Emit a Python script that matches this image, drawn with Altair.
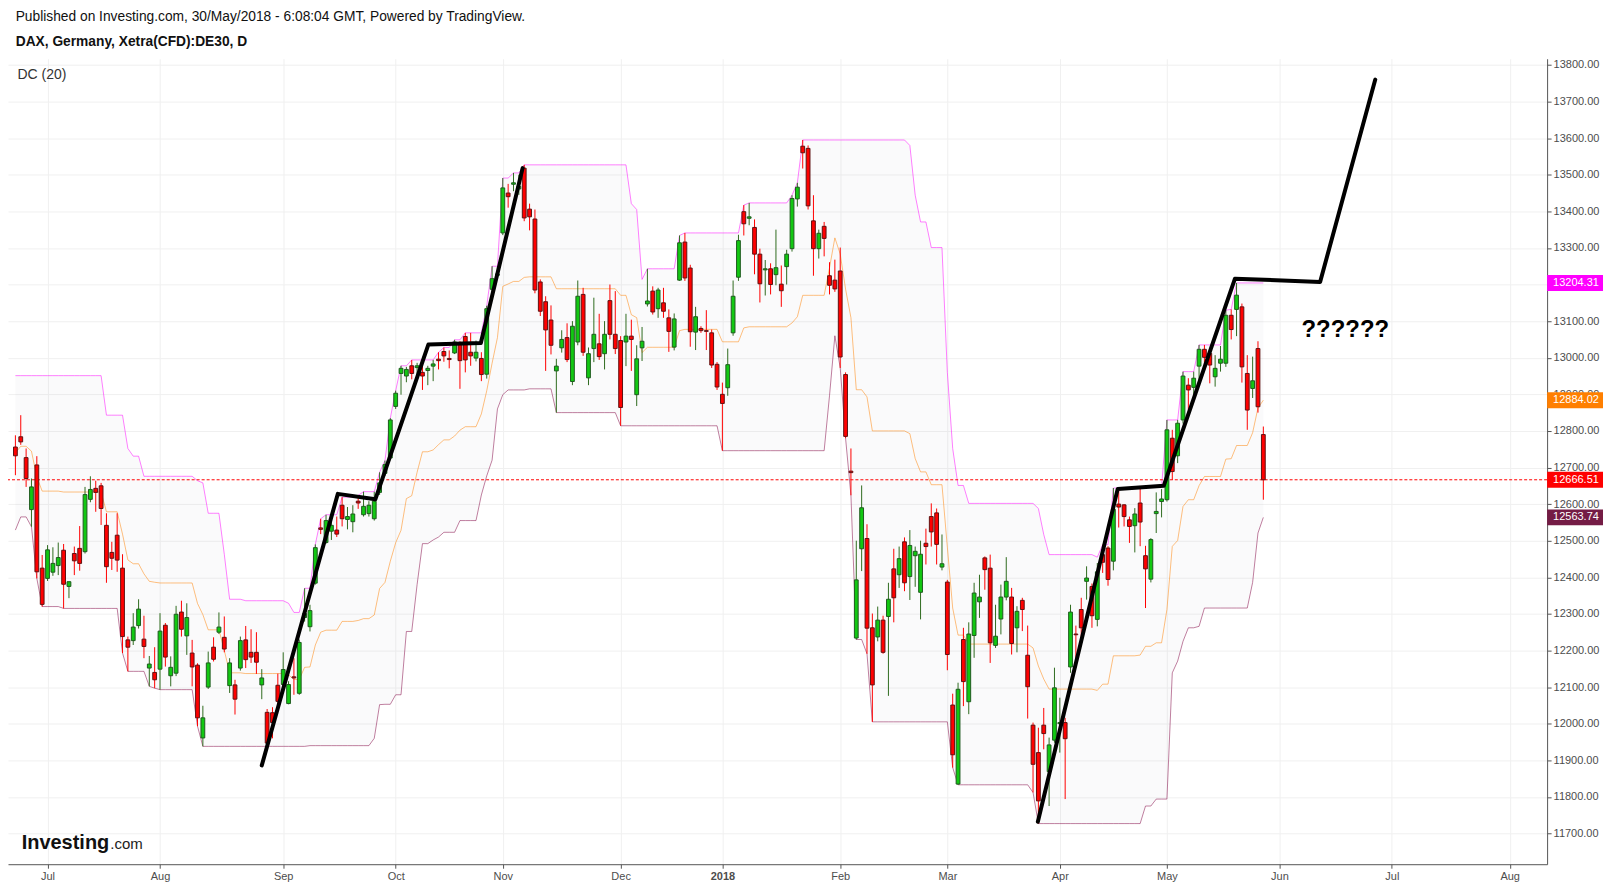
import altair as alt
import pandas as pd

# ---- daily candles (Jun 23 2017 .. May 29 2018) ----
opens = [
    12756, 12784, 12727, 12585, 12707, 12425,
    12397, 12414, 12432, 12474, 12375, 12465, 12479, 12470, 12613, 12643, 12650, 12542, 12468, 12515, 12425, 12229, 12227, 12268, 12231, 12152, 12140,
    12149, 12269, 12131, 12138, 12305, 12240, 12193, 12160, 11961, 12100, 12209, 12250, 12236, 12104, 12106, 12152, 12229, 12195, 12195, 12106, 12031, 12030, 12105,
    12107, 12055, 12128, 12083, 12290, 12265, 12384, 12535, 12495, 12526, 12529, 12597, 12558, 12552, 12608, 12571, 12574, 12560, 12632, 12684, 12726,
    12867, 12957, 12950, 12978, 12973, 12960, 12965, 12977, 12996, 13017, 12998, 13013, 13039, 13058, 13015, 12999, 12998, 12955, 13187, 13225,
    13341, 13450, 13474, 13461, 13518, 13406, 13379, 13207, 13153, 13103, 12964, 13027, 13055, 12935, 13043, 13173, 12945, 13025, 13038, 13011, 13156, 13064,
    13047, 13043, 13059, 12899, 13027, 13147, 13182, 13134, 13150, 13109, 13029, 13212, 13316, 13245, 13070, 13080, 13074, 13068, 12982,
    12900, 12918, 13068, 13220, 13399, 13381, 13356, 13283, 13240, 13243, 13227, 13201, 13249, 13298, 13434, 13578, 13572, 13374, 13298, 13359, 13224, 13212,
    13237, 12954, 12690, 12234, 12478, 12506, 12262, 12237, 12283, 12293, 12423, 12407, 12497, 12402, 12459, 12359, 12493, 12566, 12576, 12428,
    12387, 12051, 11835, 12230, 12060, 12241, 12333, 12453, 12425, 12214, 12286, 12346, 12346, 12262, 12337, 12187, 11996, 11921, 11996, 11869, 11955,
    12000, 12003, 12155, 12245, 12312, 12389, 12375, 12285, 12462, 12480, 12444, 12600, 12598, 12557, 12541, 12603, 12459, 12395, 12574, 12607,
    12612, 12780, 12732, 12830, 12925, 12919, 12977, 13023, 13012, 12948, 12985, 12985, 13116, 13132, 13139, 12957, 12916, 13025, 12790,
]
highs = [
    12788, 12843, 12752, 12670, 12731, 12461,
    12488, 12482, 12495, 12491, 12388, 12484, 12540, 12647, 12676, 12664, 12658, 12575, 12497, 12575, 12463, 12238, 12302, 12340, 12295, 12185, 12209,
    12302, 12275, 12184, 12322, 12336, 12329, 12229, 12165, 12049, 12197, 12236, 12304, 12293, 12179, 12120, 12238, 12267, 12258, 12250, 12149, 12040, 12045, 12137,
    12195, 12116, 12179, 12230, 12370, 12325, 12490, 12560, 12571, 12555, 12566, 12619, 12592, 12597, 12624, 12634, 12608, 12634, 12687, 12719, 12835,
    12910, 12978, 12975, 12994, 12986, 12989, 12978, 12994, 13015, 13028, 13020, 13049, 13045, 13068, 13068, 13047, 13015, 13142, 13250, 13248,
    13491, 13475, 13505, 13500, 13527, 13421, 13405, 13214, 13168, 13143, 12997, 13075, 13094, 13100, 13211, 13191, 13028, 13164, 13120, 13100, 13200, 13182,
    13059, 13120, 13104, 13034, 13084, 13243, 13195, 13191, 13191, 13132, 13121, 13334, 13341, 13254, 13139, 13086, 13130, 13077, 12988,
    12932, 13025, 13211, 13336, 13417, 13423, 13378, 13298, 13267, 13258, 13350, 13252, 13295, 13444, 13478, 13595, 13580, 13444, 13350, 13371, 13261, 13268,
    13301, 12960, 12752, 12500, 12651, 12545, 12301, 12320, 12295, 12385, 12478, 12484, 12509, 12529, 12484, 12500, 12533, 12602, 12588, 12517,
    12393, 12082, 12112, 12262, 12277, 12385, 12407, 12457, 12462, 12325, 12380, 12455, 12371, 12321, 12344, 12268, 12003, 11989, 12043, 11962, 12153,
    12071, 12016, 12325, 12268, 12344, 12430, 12383, 12439, 12489, 12485, 12644, 12641, 12600, 12566, 12589, 12648, 12486, 12507, 12632, 12641,
    12830, 12803, 12830, 12962, 12944, 12962, 13035, 13035, 13023, 13007, 13032, 13130, 13132, 13204.31, 13148, 13007, 13003, 13045, 12812,
]
lows = [
    12679, 12762, 12647, 12538, 12397, 12320,
    12390, 12404, 12406, 12315, 12343, 12406, 12418, 12465, 12605, 12579, 12543, 12385, 12420, 12415, 12193, 12143, 12215, 12260, 12179, 12102, 12097,
    12093, 12156, 12102, 12130, 12238, 12188, 12102, 11993, 11938, 12095, 12170, 12245, 12195, 12084, 12025, 12145, 12152, 12166, 12136, 12067, 11940, 11960, 12052,
    12095, 12053, 12079, 12079, 12279, 12252, 12380, 12518, 12492, 12502, 12510, 12539, 12531, 12523, 12587, 12566, 12566, 12555, 12625, 12677, 12720,
    12860, 12899, 12933, 12941, 12952, 12912, 12925, 12936, 12968, 12989, 12971, 13010, 12915, 12960, 12978, 12990, 12936, 12943, 13180, 13216,
    13335, 13410, 13455, 13445, 13373, 13348, 13176, 13114, 12964, 13009, 12850, 13014, 12988, 12925, 13034, 13005, 12925, 12988, 12994, 12968, 13050, 13010,
    12814, 12977, 12964, 12868, 12991, 13140, 13118, 13109, 13109, 13016, 13020, 13210, 13210, 13030, 13021, 13068, 13021, 12972, 12912,
    12746, 12896, 13060, 13210, 13334, 13362, 13228, 13151, 13170, 13173, 13198, 13139, 13200, 13290, 13413, 13517, 13405, 13224, 13271, 13277, 13173, 13180,
    12972, 12780, 12624, 12230, 12417, 12191, 12005, 12225, 12191, 12076, 12277, 12371, 12362, 12338, 12374, 12285, 12435, 12484, 12435, 12419,
    12146, 11880, 11833, 12048, 12026, 12180, 12289, 12366, 12166, 12207, 12244, 12337, 12189, 12195, 12253, 12014, 11812, 11727, 11930, 11775, 11948,
    11921, 11794, 12139, 12171, 12225, 12339, 12262, 12266, 12412, 12377, 12419, 12536, 12539, 12494, 12468, 12485, 12316, 12386, 12521, 12563.74,
    12607, 12666, 12712, 12820, 12857, 12892, 12935, 12975, 12930, 12921, 12962, 12975, 13050, 13059, 12932, 12803, 12890, 12850, 12612,
]
closes = [
    12732, 12770, 12670, 12647, 12415, 12326,
    12475, 12438, 12454, 12381, 12388, 12445, 12438, 12626, 12640, 12632, 12588, 12429, 12452, 12447, 12238, 12209, 12264, 12313, 12211, 12163, 12120,
    12253, 12182, 12154, 12299, 12258, 12290, 12155, 12016, 12016, 12166, 12176, 12264, 12204, 12166, 12067, 12227, 12175, 12182, 12168, 12125, 11947, 12003, 12061,
    12148, 12107, 12125, 12222, 12301, 12309, 12481, 12531, 12555, 12542, 12518, 12560, 12566, 12573, 12603, 12594, 12597, 12608, 12658, 12708, 12830,
    12903, 12971, 12968, 12957, 12978, 12950, 12971, 12983, 12992, 13005, 12995, 13043, 12992, 12994, 13005, 13015, 12954, 13134, 13216, 13229,
    13464, 13440, 13478, 13468, 13382, 13385, 13185, 13127, 13076, 13034, 12977, 13050, 12995, 13086, 13168, 13015, 13011, 13064, 13003, 13064, 13064, 13025,
    12864, 13059, 13050, 12997, 13045, 13155, 13125, 13185, 13127, 13072, 13106, 13314, 13218, 13071, 13112, 13074, 13072, 12980, 12920,
    12875, 12981, 13168, 13320, 13366, 13385, 13283, 13202, 13243, 13200, 13246, 13183, 13283, 13435, 13466, 13560, 13415, 13298, 13340, 13326, 13198, 13188,
    13002, 12785, 12686, 12393, 12590, 12261, 12106, 12283, 12195, 12340, 12344, 12451, 12385, 12487, 12471, 12463, 12484, 12524, 12490, 12437,
    12189, 11915, 12094, 12115, 12245, 12357, 12346, 12421, 12221, 12239, 12346, 12389, 12219, 12307, 12312, 12101, 11889, 11789, 11973, 11942, 12098,
    12003, 11959, 12305, 12243, 12262, 12398, 12295, 12415, 12441, 12394, 12586, 12592, 12566, 12539, 12573, 12551, 12423, 12503, 12580, 12614,
    12803, 12689, 12821, 12950, 12912, 12944, 13023, 13001, 12980, 12971, 12996, 13116, 13077, 13171, 12975, 12857, 12937, 12866, 12666.51,
]

# Donchian channel levels visible at the left edge (from bars before the first candle)
dc_upper_start = [12951, 12951, 12951, 12951, 12951, 12951, 12951, 12951, 12951,
                  12951, 12951, 12951, 12951, 12951, 12951, 12951, 12951]
dc_lower_start = [12529, 12565, 12565]

# hand-drawn black trend lines (bar index, price)
trend_a_idx = [46.0, 60.2, 67.2, 77.1, 86.9, 94.7]
trend_a_px = [11886, 12628, 12613, 13036, 13040, 13518]
trend_b_idx = [190.9, 205.8, 214.4, 227.7, 243.6, 253.9]
trend_b_px = [11732, 12641, 12650, 13216, 13207, 13760]

month_idx = [6, 27, 50, 71, 91, 113, 132, 154, 174, 195, 215, 236, 257, 279]
month_lab = ["Jul", "Aug", "Sep", "Oct", "Nov", "Dec", "2018", "Feb", "Mar", "Apr", "May", "Jun", "Jul", "Aug"]
price_ticks = [11700, 11800, 11900, 12000, 12100, 12200, 12300, 12400, 12500, 12600, 12700,
               12800, 12900, 13000, 13100, 13200, 13300, 13400, 13500, 13600, 13700, 13800]

label_vals = [13204.31, 12884.02, 12666.51, 12563.74]
label_cols = ["#ff00ff", "#ff7f00", "#ff0000", "#741c45"]
last_close = 12666.51

question_idx = [248.3]
question_px = [13076]
question_txt = ["??????"]

# ---------------------------------------------------------------------------
n = len(opens)
df = pd.DataFrame({
    "i": list(range(n)),
    "o": opens, "h": highs, "l": lows, "c": closes,
    "su": dc_upper_start + [None] * (n - len(dc_upper_start)),
    "sl": dc_lower_start + [None] * (n - len(dc_lower_start)),
})

W, H = 1542, 807
FONT = "Liberation Sans"

label_expr = " : ".join(f"datum.value == {v} ? '{t}'" for v, t in zip(month_idx, month_lab)) + " : ''"

XS = alt.Scale(domain=[-0.45, 285.05], nice=False, zero=False)
YS = alt.Scale(domain=[11616, 13817], nice=False, zero=False)
AX = alt.Axis(values=month_idx, labelExpr=label_expr, grid=True, gridColor="#f0f0f0", gridWidth=1,
              tickSize=4, tickColor="#555555", domainColor="#555555", labelColor="#4d4d4d",
              labelFontSize=11, labelFont=FONT, labelPadding=2, labelFlush=False, labelOverlap=False,
              labelFontWeight={"condition": {"test": "datum.value == 132", "value": "bold"}, "value": "normal"},
              title=None, orient="bottom")
AY = alt.Axis(values=price_ticks, format=".2f", orient="right", grid=True, gridColor="#f0f0f0", gridWidth=1,
              tickSize=4, tickColor="#555555", domainColor="#555555", labelColor="#4d4d4d",
              labelFontSize=11, labelFont=FONT, labelPadding=2, labelFlush=False, labelOverlap=False,
              title=None)


def X(f):
    return alt.X(f, type="quantitative", scale=XS, axis=AX)


def Y(f):
    return alt.Y(f, type="quantitative", scale=YS, axis=AY)


dc = (alt.Chart(df)
      .transform_window(wu="max(h)", wl="min(l)", frame=[-19, 0], sort=[alt.SortField("i", order="ascending")])
      .transform_calculate(u="isValid(datum.su) ? max(datum.su, datum.wu) : datum.wu",
                           lo="isValid(datum.sl) ? min(datum.sl, datum.wl) : datum.wl")
      .transform_calculate(m="(datum.u + datum.lo) / 2"))

band = dc.mark_area(color="#8c8ca0", opacity=0.04).encode(x=X("i"), y=Y("u"), y2=alt.Y2("lo"))
upper = dc.mark_line(color="#ff00ff", opacity=0.5, strokeWidth=1).encode(x=X("i"), y=Y("u"))
middle = dc.mark_line(color="#ff8000", opacity=0.5, strokeWidth=1).encode(x=X("i"), y=Y("m"))
lower = dc.mark_line(color="#800040", opacity=0.5, strokeWidth=1).encode(x=X("i"), y=Y("lo"))

last_rule = alt.Chart(pd.DataFrame({"p": [last_close]})).mark_rule(
    color="#ff0000", strokeDash=[3, 2], strokeWidth=1).encode(y=Y("p"))

up = "datum.c >= datum.o"
wicks = alt.Chart(df).mark_rule(strokeWidth=1).encode(
    x=X("i"), y=Y("l"), y2=alt.Y2("h"),
    color=alt.condition(up, alt.value("#2f6b1f"), alt.value("#ff0000")))
bodies = alt.Chart(df).mark_bar(size=3.8, strokeWidth=1).encode(
    x=X("i"), y=Y("o"), y2=alt.Y2("c"),
    fill=alt.condition(up, alt.value("#12c812"), alt.value("#ff0000")),
    stroke=alt.condition(up, alt.value("#1f5a1f"), alt.value("#5e1212")))

tl = pd.DataFrame({
    "seg": ["a"] * len(trend_a_idx) + ["b"] * len(trend_b_idx),
    "k": list(range(len(trend_a_idx))) + list(range(len(trend_b_idx))),
    "i": trend_a_idx + trend_b_idx,
    "p": trend_a_px + trend_b_px,
})
trend = alt.Chart(tl).mark_line(color="#000000", strokeWidth=4, strokeCap="round", strokeJoin="round").encode(
    x=X("i"), y=Y("p"), detail="seg:N", order="k:Q")

question = alt.Chart(pd.DataFrame({"i": question_idx, "p": question_px, "t": question_txt})).mark_text(
    fontSize=24, fontWeight="bold", font=FONT, color="#000000", align="center", baseline="middle").encode(
    x=X("i"), y=Y("p"), text="t:N")

lab = pd.DataFrame({"v": label_vals, "col": label_cols, "t": [f"{v:.2f}" for v in label_vals]})
boxes = alt.Chart(lab).transform_calculate(hi="datum.v + 21.8", lo2="datum.v - 21.8").mark_rect().encode(
    x=alt.value(W), x2=alt.value(W + 56), y=Y("hi"), y2=alt.Y2("lo2"),
    color=alt.Color("col:N", scale=None))
box_txt = alt.Chart(lab).mark_text(align="left", baseline="middle", color="#ffffff", fontSize=11, font=FONT).encode(
    x=alt.value(W + 6), y=Y("v"), text="t:N")


def note(txt, x, y, size, weight="normal", baseline="middle", color="#1a1a1a"):
    return alt.Chart(pd.DataFrame({"t": [txt]})).mark_text(
        align="left", baseline=baseline, fontSize=size, fontWeight=weight, font=FONT, color=color).encode(
        x=alt.value(x), y=alt.value(y), text="t:N")


pub = note("Published on Investing.com, 30/May/2018 - 6:08:04 GMT, Powered by TradingView.", 7.7, -42, 13.8,
           color="#111111")
sym = note("DAX, Germany, Xetra(CFD):DE30, D", 7.7, -17, 13.8, weight="bold", color="#111111")
dclab = note("DC (20)", 9.5, 16, 14, color="#333333")
logo1 = note("Investing", 13.7, 792, 20, weight="bold", baseline="alphabetic", color="#111111")
logo2 = note(".com", 102.5, 792, 15, baseline="alphabetic", color="#222222")

chart = alt.layer(
    band, upper, middle, lower, last_rule, wicks, bodies, trend, question,
    boxes, box_txt, pub, sym, dclab, logo1, logo2
).properties(
    width=W, height=H,
    padding={"left": 0, "top": 50, "right": 58, "bottom": 20},
    autosize=alt.AutoSizeParams(type="none"),
).configure(background="#ffffff").configure_view(stroke=None)

chart.save("out.html", embed_options={"renderer": "svg", "actions": False})
